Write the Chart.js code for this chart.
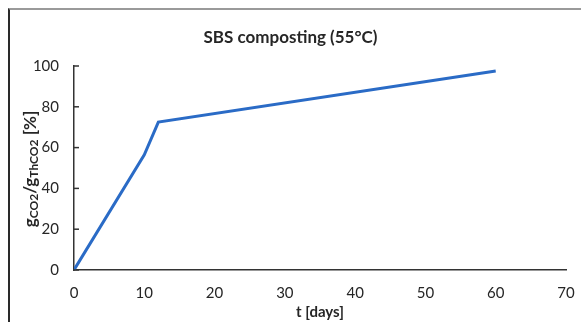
<!DOCTYPE html>
<html>
<head>
<meta charset="utf-8">
<script src="https://cdn.jsdelivr.net/npm/chart.js@4/dist/chart.umd.min.js"></script>
<style>
  html, body { margin: 0; padding: 0; background: #fff; }
  #wrap { position: relative; width: 581px; height: 322px; overflow: hidden; }
  #c { position: absolute; left: 0; top: 0; }
  #frame {
    position: absolute; left: 8px; top: 8px; width: 600px; height: 340px;
    border-top: 2px solid #9a9a9a; border-left: 2px solid #2a2a2a;
    pointer-events: none;
  }
  #ytitle {
    position: absolute; left: 30px; top: 169px;
    transform: translate(-50%, -50%) rotate(-90deg);
    white-space: nowrap; font: bold 17px Lato, sans-serif; color: #262626;
  }
  #ytitle sub { font-size: 12px; vertical-align: -2px; }
</style>
</head>
<body>
<div id="wrap">
  <canvas id="c" width="581" height="322"></canvas>
  <div id="frame"></div>
  <div id="ytitle">g<sub>CO2</sub>/g<sub>ThCO2</sub> [%]</div>
</div>
<script>
// values
const days = [0, 10, 12, 60];
const co2Percent = [0, 56.5, 72.5, 97.5];
const xMax = 70, xStep = 10;
const yMax = 100, yStep = 20;

const axisColor = "#333";
const textColor = "#262626";
const fam = "Lato, sans-serif";

// Excel style inside tick marks on the y axis
const insideTicks = {
  id: "insideTicks",
  afterDraw(chart) {
    const ctx = chart.ctx;
    const y = chart.scales.y;
    const left = chart.chartArea.left;
    ctx.save();
    ctx.strokeStyle = axisColor;
    ctx.lineWidth = 1.5;
    y.ticks.forEach(t => {
      const py = y.getPixelForValue(t.value);
      ctx.beginPath();
      ctx.moveTo(left, py);
      ctx.lineTo(left + 5, py);
      ctx.stroke();
    });
    ctx.restore();
  }
};

new Chart(document.getElementById("c"), {
  type: "line",
  data: {
    datasets: [{
      data: days.map((d, i) => ({ x: d, y: co2Percent[i] })),
      borderColor: "#2a6bc6",
      borderWidth: 3,
      pointRadius: 0,
      tension: 0,
      fill: false
    }]
  },
  options: {
    responsive: false,
    animation: false,
    layout: { padding: 0 },
    plugins: {
      legend: { display: false },
      tooltip: { enabled: false },
      title: {
        display: true,
        text: "SBS composting (55°C)",
        color: textColor,
        font: { family: fam, size: 17, weight: "bold" },
        padding: { top: 27, bottom: 18.6 }
      }
    },
    scales: {
      x: {
        type: "linear",
        min: 0, max: xMax,
        ticks: { stepSize: xStep, color: textColor, font: { family: fam, size: 15 }, padding: 14, maxRotation: 0 },
        grid: { display: false, drawTicks: false },
        border: { display: true, color: axisColor, width: 1.5 },
        title: {
          display: true,
          text: "t [days]",
          color: textColor,
          font: { family: fam, size: 15, weight: "bold" },
          padding: { top: 0, bottom: 1 }
        },
        // keep the plot right edge at 566 while the title stays centred on the canvas
        afterFit(s) { s.height = 52; s.paddingLeft = 0; s.paddingRight = 15; }
      },
      y: {
        min: 0, max: yMax,
        ticks: { stepSize: yStep, color: textColor, font: { family: fam, size: 15 }, padding: 15 },
        grid: { display: false, drawTicks: false },
        border: { display: true, color: axisColor, width: 1.5 },
        afterFit(s) { s.width = 74; }
      }
    }
  },
  plugins: [insideTicks]
});
</script>
</body>
</html>
